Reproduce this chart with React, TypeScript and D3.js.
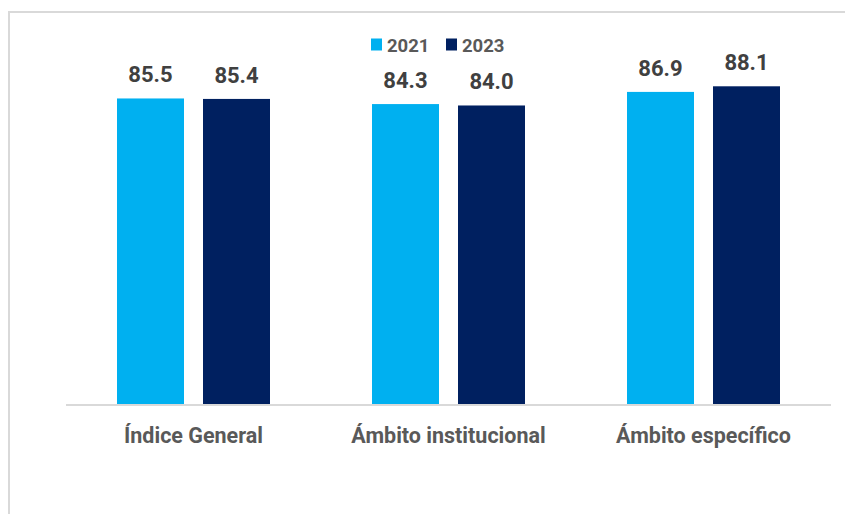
import React, { useRef, useEffect } from 'react';
import * as d3 from 'd3';

const categories = ['Índice General', 'Ámbito institucional', 'Ámbito específico'];
const seriesNames = ['2021', '2023'];
const values2021 = [85.5, 84.3, 86.9];
const values2023 = [85.4, 84.0, 88.1];
const seriesColors = ['#00B0F0', '#002060'];

const WIDTH = 845;
const HEIGHT = 514;

const App: React.FC = () => {
  const svgRef = useRef<SVGSVGElement>(null);

  useEffect(() => {
    if (!svgRef.current) return;
    const svg = d3.select(svgRef.current);
    svg.selectAll('*').remove();

    const font = 'Roboto, "Liberation Sans", sans-serif';
    const seriesValues = [values2021, values2023];

    // chart frame (right and bottom edges fall outside the picture)
    svg.append('rect')
      .attr('x', 9).attr('y', 12)
      .attr('width', WIDTH + 20).attr('height', HEIGHT + 20)
      .attr('fill', '#fff')
      .attr('stroke', '#d9d9d9')
      .attr('stroke-width', 2);

    const plot = { left: 66, right: 831, top: 30.6, bottom: 405 };

    const x0 = d3.scaleBand<string>()
      .domain(categories)
      .range([plot.left, plot.right])
      .padding(0);

    const x1 = d3.scaleBand<string>()
      .domain(seriesNames)
      .range([51, 204])
      .paddingInner(0.221)
      .paddingOuter(0);

    const y = d3.scaleLinear()
      .domain([20, 100])
      .range([plot.bottom, plot.top]);

    // bars
    seriesNames.forEach((s, si) => {
      const g = svg.append('g');
      g.selectAll('rect')
        .data(categories)
        .enter()
        .append('rect')
        .attr('x', (c) => (x0(c) || 0) + (x1(s) || 0))
        .attr('y', (_c, i) => y(seriesValues[si][i]))
        .attr('width', x1.bandwidth())
        .attr('height', (_c, i) => plot.bottom - y(seriesValues[si][i]))
        .attr('fill', seriesColors[si]);

      g.selectAll('text')
        .data(categories)
        .enter()
        .append('text')
        .attr('x', (c) => (x0(c) || 0) + (x1(s) || 0) + x1.bandwidth() / 2)
        .attr('y', (_c, i) => y(seriesValues[si][i]) - 16)
        .attr('text-anchor', 'middle')
        .style('font-family', font)
        .style('font-size', '22px')
        .style('font-weight', 'bold')
        .style('fill', '#404040')
        .text((_c, i) => d3.format('.1f')(seriesValues[si][i]));
    });

    // baseline
    svg.append('line')
      .attr('x1', plot.left).attr('x2', plot.right)
      .attr('y1', plot.bottom).attr('y2', plot.bottom)
      .attr('stroke', '#d9d9d9')
      .attr('stroke-width', 2);

    // category labels
    svg.append('g')
      .selectAll('text')
      .data(categories)
      .enter()
      .append('text')
      .attr('x', (c) => (x0(c) || 0) + x0.bandwidth() / 2)
      .attr('y', 443)
      .attr('text-anchor', 'middle')
      .style('font-family', font)
      .style('font-size', '21.5px')
      .style('font-weight', 'bold')
      .style('fill', '#595959')
      .text((c) => c);

    // legend
    const legendX = [371, 446];
    const legend = svg.append('g');
    seriesNames.forEach((s, i) => {
      legend.append('rect')
        .attr('x', legendX[i]).attr('y', 38.5)
        .attr('width', 11).attr('height', 12)
        .attr('fill', seriesColors[i]);
      legend.append('text')
        .attr('x', legendX[i] + 16).attr('y', 51.5)
        .style('font-family', font)
        .style('font-size', '18.5px')
        .style('font-weight', 'bold')
        .style('fill', '#595959')
        .text(s);
    });
  }, []);

  return (
    <svg
      ref={svgRef}
      width={WIDTH}
      height={HEIGHT}
      style={{ position: 'absolute', left: 0, top: 0, display: 'block' }}
      viewBox={`0 0 ${WIDTH} ${HEIGHT}`}
    />
  );
};

export default App;
